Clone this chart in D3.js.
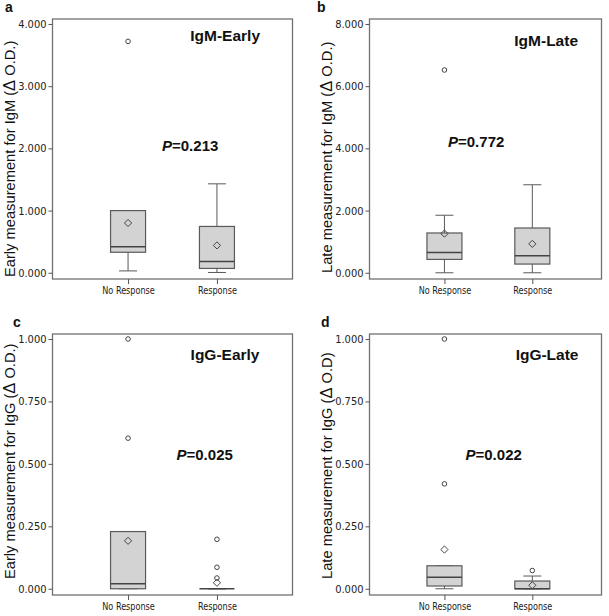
<!DOCTYPE html>
<html>
<head>
<meta charset="utf-8">
<script src="https://cdn.jsdelivr.net/npm/d3@7"></script>
<style>
  html, body { margin: 0; padding: 0; background: #fff; }
  svg { display: block; }
  .tick text { font-family: "Liberation Sans Narrow", "Arial Narrow", "DejaVu Sans Condensed", sans-serif; fill: #222; }
</style>
</head>
<body>
<svg id="chart" width="609" height="616"></svg>
<script>
// ---------- data ----------
const categories = ["No Response", "Response"];
const panelLetters = ["a", "b", "c", "d"];
const panelTitles = ["IgM-Early", "IgM-Late", "IgG-Early", "IgG-Late"];
const pValues = ["0.213", "0.772", "0.025", "0.022"];
const yTitles = [
  "Early measurement for IgM (",
  "Late measurement for IgM (",
  "Early measurement for IgG (",
  "Late measurement for IgG ("
];
const yTitleEnds = [" O.D.)", " O.D.)", " O.D.)", " O.D)"];
const yTicksIgMEarly = [0, 1, 2, 3, 4];
const yTicksIgMLate = [0, 2, 4, 6, 8];
const yTicksIgGEarly = [0, 0.25, 0.5, 0.75, 1];
const yTicksIgGLate = [0, 0.25, 0.5, 0.75, 1];

// box statistics: [No Response, Response]
const igmEarlyBoxes = [
  { low: 0.03, q1: 0.33, median: 0.42, q3: 1.0, high: 1.0, mean: 0.80, outliers: [3.72] },
  { low: 0.005, q1: 0.07, median: 0.18, q3: 0.745, high: 1.43, mean: 0.44, outliers: [] }
];
const igmLateBoxes = [
  { low: 0.0, q1: 0.43, median: 0.65, q3: 1.28, high: 1.85, mean: 1.26, outliers: [6.52] },
  { low: 0.0, q1: 0.28, median: 0.55, q3: 1.44, high: 2.83, mean: 0.93, outliers: [] }
];
const iggEarlyBoxes = [
  { low: 0.0, q1: 0.0, median: 0.02, q3: 0.229, high: 0.229, mean: 0.192, outliers: [0.603, 1.0] },
  { low: 0.0, q1: 0.0, median: 0.0, q3: 0.0, high: 0.0, mean: 0.024, outliers: [0.198, 0.086, 0.043] }
];
const iggLateBoxes = [
  { low: 0.0, q1: 0.011, median: 0.046, q3: 0.092, high: 0.092, mean: 0.157, outliers: [0.42, 1.0] },
  { low: 0.0, q1: 0.0, median: 0.0, q3: 0.031, high: 0.051, mean: 0.014, outliers: [0.073] }
];

// ---------- layout ----------
const panels = [
  { boxes: igmEarlyBoxes, ticks: yTicksIgMEarly, frame: { x0: 52.5, x1: 292.5, y0: 19, y1: 279 },
    pad: 0.85, align: 0.5,
    letter: [5, 12], title: [260, 40.5], p: [162, 151], yTitle: [15, 277] },
  { boxes: igmLateBoxes, ticks: yTicksIgMLate, frame: { x0: 369.5, x1: 601.5, y0: 19, y1: 279 },
    pad: 0.82, align: 0.52,
    letter: [317, 12], title: [578, 45.5], p: [448, 146.5], yTitle: [332, 273] },
  { boxes: iggEarlyBoxes, ticks: yTicksIgGEarly, frame: { x0: 52.5, x1: 292.5, y0: 334, y1: 595 },
    pad: 0.85, align: 0.5,
    letter: [13, 327], title: [259.5, 359.5], p: [176.5, 460], yTitle: [15, 579] },
  { boxes: iggLateBoxes, ticks: yTicksIgGLate, frame: { x0: 369.5, x1: 601.5, y0: 334, y1: 595 },
    pad: 0.82, align: 0.52,
    letter: [321, 327], title: [578.5, 359.5], p: [465.5, 460], yTitle: [332, 579] }
];

const svg = d3.select("#chart");
const fmt = d3.format(".3f");
const boxW = 35, capW = 18;
const strokeBox = "#5a5a5a", fillBox = "#d3d3d3";

panels.forEach((pn, i) => {
  const f = pn.frame;
  const tMax = d3.max(pn.ticks);
  const y = d3.scaleLinear().domain([-0.025 * tMax, 1.02 * tMax]).range([f.y1, f.y0]);
  const x = d3.scalePoint().domain(categories).range([f.x0, f.x1]).padding(pn.pad).align(pn.align);
  const g = svg.append("g");

  // frame
  g.append("rect").attr("x", f.x0).attr("y", f.y0)
    .attr("width", f.x1 - f.x0).attr("height", f.y1 - f.y0)
    .attr("fill", "none").attr("stroke", "#707070").attr("stroke-width", 1.3);

  // y axis
  const ya = g.append("g").attr("transform", `translate(${f.x0},0)`)
    .call(d3.axisLeft(y).tickValues(pn.ticks).tickFormat(fmt).tickSize(4).tickPadding(2));
  ya.select(".domain").remove();
  ya.selectAll(".tick line").attr("stroke", "#555");
  ya.selectAll(".tick text").attr("font-size", 11);

  // x axis
  const xa = g.append("g").attr("transform", `translate(0,${f.y1})`)
    .call(d3.axisBottom(x).tickSize(5).tickPadding(3));
  xa.select(".domain").remove();
  xa.selectAll(".tick line").attr("stroke", "#555");
  xa.selectAll(".tick text").attr("font-size", 10.5).attr("transform", "scale(0.86,1)");

  // boxes
  pn.boxes.forEach((b, j) => {
    const cx = x(categories[j]);
    const bg = g.append("g");
    // whiskers
    bg.append("line").attr("x1", cx).attr("x2", cx).attr("y1", y(b.q3)).attr("y2", y(b.high))
      .attr("stroke", strokeBox).attr("stroke-width", 1);
    bg.append("line").attr("x1", cx).attr("x2", cx).attr("y1", y(b.q1)).attr("y2", y(b.low))
      .attr("stroke", strokeBox).attr("stroke-width", 1);
    [b.low, b.high].forEach(v => {
      bg.append("line").attr("x1", cx - capW / 2).attr("x2", cx + capW / 2)
        .attr("y1", y(v)).attr("y2", y(v)).attr("stroke", strokeBox).attr("stroke-width", 1);
    });
    // box
    bg.append("rect").attr("x", cx - boxW / 2).attr("y", y(b.q3))
      .attr("width", boxW).attr("height", Math.max(0, y(b.q1) - y(b.q3)))
      .attr("fill", fillBox).attr("stroke", strokeBox).attr("stroke-width", 1.2);
    // median
    bg.append("line").attr("x1", cx - boxW / 2).attr("x2", cx + boxW / 2)
      .attr("y1", y(b.median)).attr("y2", y(b.median)).attr("stroke", "#444").attr("stroke-width", 1.5);
    // mean diamond
    const ym = y(b.mean), d = 3.6;
    bg.append("path").attr("d", `M${cx},${ym - d}L${cx + d},${ym}L${cx},${ym + d}L${cx - d},${ym}Z`)
      .attr("fill", "none").attr("stroke", "#444").attr("stroke-width", 1);
    // outliers
    b.outliers.forEach(v => {
      bg.append("circle").attr("cx", cx).attr("cy", y(v)).attr("r", 2.3)
        .attr("fill", "none").attr("stroke", "#444").attr("stroke-width", 1);
    });
  });

  // panel letter
  svg.append("text").attr("x", pn.letter[0]).attr("y", pn.letter[1])
    .attr("font-family", "Liberation Sans, Arial, sans-serif").attr("font-weight", "bold")
    .attr("font-size", 14).attr("fill", "#111").text(panelLetters[i]);

  // panel title
  svg.append("text").attr("x", pn.title[0]).attr("y", pn.title[1])
    .attr("text-anchor", "end")
    .attr("font-family", "Liberation Sans, Arial, sans-serif").attr("font-weight", "bold")
    .attr("font-size", 15.5).attr("fill", "#111").text(panelTitles[i]);

  // P value
  const pt = svg.append("text").attr("x", pn.p[0]).attr("y", pn.p[1])
    .attr("font-family", "Liberation Sans, Arial, sans-serif").attr("font-weight", "bold")
    .attr("font-size", 15).attr("fill", "#111");
  pt.append("tspan").attr("font-style", "italic").text("P");
  pt.append("tspan").text("=" + pValues[i]);

  // y title
  const yt = svg.append("text")
    .attr("transform", `translate(${pn.yTitle[0]},${pn.yTitle[1]}) rotate(-90)`)
    .attr("font-family", "Liberation Sans, Arial, sans-serif")
    .attr("font-size", 14.7).attr("fill", "#111");
  yt.append("tspan").text(yTitles[i]);
  yt.append("tspan").attr("font-size", 16.5).text("Δ");
  yt.append("tspan").text(yTitleEnds[i]);
});
</script>
</body>
</html>
